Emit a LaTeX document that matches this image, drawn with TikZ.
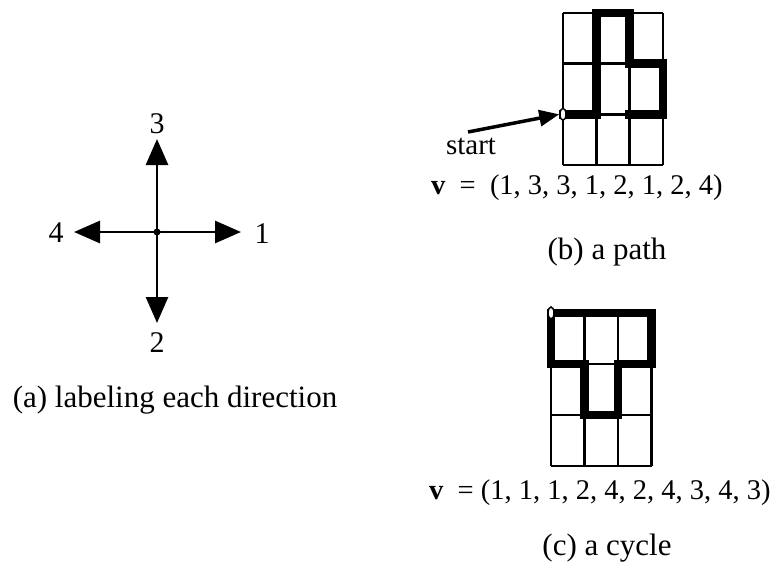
\documentclass[tikz,border=0pt]{standalone}
\usepackage{fontspec}
\setmainfont{Liberation Serif}
\usetikzlibrary{arrows.meta,shapes.geometric}
\begin{document}
\begin{tikzpicture}[x=1pt,y=-1pt,
  thin grid/.style={line width=2.8pt},
  thick path/.style={line width=8.5pt,line cap=rect,line join=miter},
  dirarrow/.style={line width=2.8pt,-{Triangle[length=26pt,width=22pt]}},
  lbl/.style={font=\fontsize{30}{32}\selectfont,inner sep=0pt},
  caplbl/.style={font=\fontsize{31}{33}\selectfont,inner sep=0pt},
  vlbl/.style={font=\fontsize{28.5}{30}\selectfont,inner sep=0pt,anchor=west},
  startmark/.style={ellipse,draw,fill=white,line width=1.5pt,minimum width=6pt,minimum height=12pt,inner sep=0pt}]
\useasboundingbox (0,0) rectangle (777,571);
% ---------- (a) ----------
\coordinate (c) at (157,232);
\coordinate (t1) at (241,232);
\coordinate (t3) at (157,139);
\coordinate (t4) at (74,232);
\coordinate (t2) at (157,323);
\draw[dirarrow] (c) -- (t1);
\draw[dirarrow] (c) -- (t3);
\draw[dirarrow] (c) -- (t4);
\draw[dirarrow] (c) -- (t2);
\fill (c) circle (3.5pt);
\node[lbl] (l1) at (262,234) {1};
\node[lbl] (l3) at (157,124) {3};
\node[lbl] (l4) at (56,233) {4};
\node[lbl] (l2) at (157,343) {2};
\node[caplbl] (capa) at (175,400) {(a) labeling each direction};
% ---------- (b) ----------
\begin{scope}[shift={(563,165)},x=33.3pt,y=50.7pt]
  \foreach \i in {0,1,2,3} \draw[thin grid] (\i,0) -- (\i,3);
  \foreach \j in {0,1,2,3} \draw[thin grid] (0,\j) -- (3,\j);
  \draw[thick path] (0,1) -- (1,1) -- (1,3) -- (2,3) -- (2,2) -- (3,2) -- (3,1) -- (2,1);
  \node[startmark] (sb) at (0,1) {};
\end{scope}
\node[lbl,font=\fontsize{29}{31}\selectfont] (start) at (471,146) {start};
\coordinate (sa) at (468,132);
\draw[line width=3.5pt,-{Triangle[length=20pt,width=16pt]}] (sa) -- (sb.west);
\node[vlbl] (vb) at (431,188) {\textbf{v}\ \ =\ \ (1, 3, 3, 1, 2, 1, 2, 4)};
\node[caplbl] (capb) at (607,252) {(b) a path};
% ---------- (c) ----------
\begin{scope}[shift={(551,466)},x=33.5pt,y=51pt]
  \foreach \i in {0,1,2,3} \draw[thin grid] (\i,0) -- (\i,3);
  \foreach \j in {0,1,2,3} \draw[thin grid] (0,\j) -- (3,\j);
  \draw[thick path] (0,3) -- (3,3) -- (3,2) -- (2,2) -- (2,1) -- (1,1) -- (1,2) -- (0,2) -- cycle;
  \node[startmark] (sc) at (0,3) {};
\end{scope}
\node[vlbl] (vc) at (429,493) {\textbf{v}\ \ = (1, 1, 1, 2, 4, 2, 4, 3, 4, 3)};
\node[caplbl] (capc) at (607,548) {(c) a cycle};
\end{tikzpicture}
\end{document}
